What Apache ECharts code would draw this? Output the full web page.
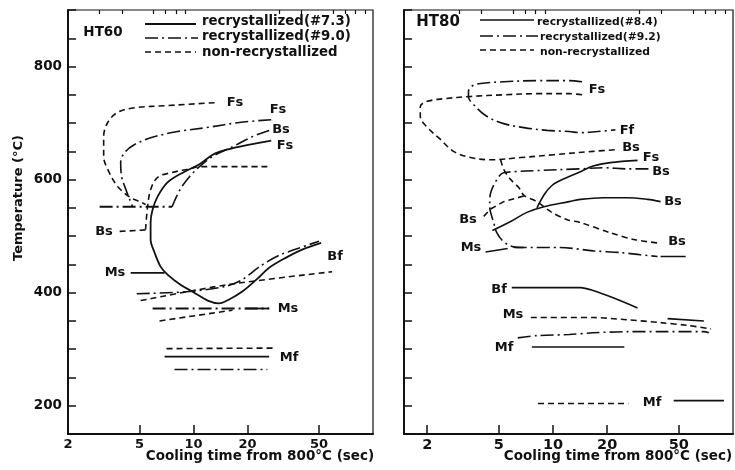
<!DOCTYPE html>
<html><head><meta charset="utf-8">
<script src="https://cdn.jsdelivr.net/npm/echarts@6/dist/echarts.min.js"></script>
<style>html,body{margin:0;padding:0;background:#fff}#c{width:735px;height:470px}</style>
</head><body><div id="c"></div>
<script>
// ---------- tick values ----------
const xTickLabels = [2, 5, 10, 20, 50];
const xMinorTicks = [3, 4, 6, 7, 8, 9, 30, 40, 60, 70, 80, 90];
const yTickLabels = [200, 400, 600, 800];

// ---------- HT60 (left) : [cooling time s, temperature C] ----------
const L_non_Fs = [[13.1,736],[7.17,731],[4.70,727],[3.78,719],[3.33,701],[3.16,676],[3.16,641],[3.33,618],[3.78,588],[4.47,568],[5.01,561],[5.41,556]];
const L_non_Bs = [[25.8,623],[10.8,623],[9.5,619],[7.45,612],[6.31,604],[5.77,582],[5.55,552],[5.41,512]];
const L_non_Bs2 = [[5.41,511],[3.7,508]];
const L_non_Bf = [[5.08,386],[15.4,414],[59.2,437]];
const L_non_Ms = [[6.47,350],[16.5,369]];
const L_non_Mf = [[7.08,301],[28.2,302]];
const L_r90_Fs = [[27.1,706],[18.0,701],[11.8,692],[8.15,685],[5.77,674],[4.70,662],[4.14,648],[3.93,630],[3.98,605],[4.14,588],[4.41,565],[4.58,552]];
const L_r90_h = [[3.0,552],[7.6,552]];
const L_r90_Bs = [[7.6,552],[8.4,582],[9.5,605],[10.8,623],[12.8,641],[16.5,658],[21.3,676],[26.4,687]];
const L_r90_Bf = [[4.83,398],[9.5,402],[15,411],[18.7,423],[23.3,446],[30,466],[38.8,479],[50,491]];
const L_r90_Ms = [[5.92,372],[26.4,372]];
const L_r90_Mf = [[7.84,264],[25.8,264]];
const L_r73_main = [[27.1,669],[20.5,662],[15.3,653],[12.8,644],[10.8,627],[8.91,614],[7.17,595],[6.31,570],[5.92,547],[5.77,524],[5.77,494],[6.07,471],[6.56,446],[7.17,432],[8.47,414],[10.1,400],[12.0,386],[13.9,381],[15.8,388],[18.7,402],[22.4,423],[26.4,444],[32.8,462],[40.3,476],[51.4,488]];
const L_r73_Ms = [[4.47,435],[6.90,435]];
const L_r73_Ms2 = [[19.5,372],[26.4,372]];
const L_r73_Mf = [[6.90,287],[26.4,287]];

// ---------- HT80 (right) ----------
const R_r92_F = [[14.5,773],[12.3,775],[8.14,775],[5.32,773],[3.96,770],[3.53,765],[3.39,756],[3.39,747],[3.71,729],[4.28,712],[5.32,699],[6.89,692],[9.26,687],[12.3,685],[14.2,683],[17.6,685],[22.2,688]];
const R_non_C = [[14.5,750],[12.3,752],[8.14,752],[5.32,750],[3.48,747],[2.46,743],[1.98,738],[1.83,729],[1.83,712],[1.98,694],[2.37,671],[2.80,650],[3.48,639],[4.50,635],[6.62,639],[10.1,644],[16.7,650],[22.8,653]];
const R_non_B = [[5.12,635],[5.32,618],[5.82,600],[6.45,586],[6.89,572],[8.14,561],[9.75,543],[12.0,529],[14.2,524],[20.8,506],[28.0,494],[38.1,488]];
const R_non_Bs = [[4.12,535],[4.50,548],[5.32,561],[6.89,571]];
const R_non_Ms = [[7.53,356],[16.7,356],[25.9,352],[39.6,347],[56.0,342],[75.4,336]];
const R_non_Mf = [[8.25,204],[26.2,204]];
const R_r92_B = [[33.9,619],[25.9,619],[19.0,621],[14.2,619],[8.14,616],[6.05,614],[5.32,612],[5.12,609],[4.87,600],[4.56,582],[4.45,565],[4.45,552],[4.50,542],[4.68,524],[4.87,506],[5.32,490],[6.05,481],[6.89,480]];
const R_r92_Ms = [[6.05,480],[10.9,480],[16.7,474],[23.7,471],[30.6,467],[38.1,464]];
const R_r92_Mf = [[6.37,320],[8.14,324],[12.3,326],[16.7,329],[25.9,331],[39.6,331],[68.9,331],[73.4,329]];
const R_r84_Fs = [[8.14,550],[9.0,575],[9.9,590],[10.9,598],[12.4,606],[14.2,614],[16.7,624],[20.8,630],[29.5,634]];
const R_r84_Bs = [[4.6,510],[5.82,526],[7.16,542],[8.91,552],[12.3,561],[14.2,565],[19.0,568],[25.9,568],[33.5,565],[39.6,561]];
const R_r84_Ms1 = [[4.22,472],[5.6,478]];
const R_r84_Ms2 = [[39.6,464],[54.6,464]];
const R_r84_Bf = [[5.9,409],[14.2,409],[16.7,404],[21.6,391],[29.5,373]];
const R_r84_Ms3 = [[43.3,354],[68.9,350]];
const R_r84_Mf = [[7.63,304],[24.9,304]];
const R_r84_Mf2 = [[46.8,209],[89.1,209]];

// ---------- styles ----------
const INK = '#111';
const SOLID = 'solid', DASH = [6,4], DDOT = [13,4,2,4];
const FONT = '"DejaVu Sans", "Liberation Sans", sans-serif';
const lg = Math.log10;

function line(data, type, grid, smooth, width) {
  return {
    type: 'line', xAxisIndex: grid * 2, yAxisIndex: grid,
    data: data.map(p => [lg(p[0]), p[1]]),
    symbol: 'none', showSymbol: false, silent: true, animation: false,
    smooth: smooth || false,
    lineStyle: { color: INK, width: width || 1.6, type: type }
  };
}

const series = [
  line(L_non_Fs, DASH, 0, 0.35),
  line(L_non_Bs, DASH, 0, 0.35),
  line(L_non_Bs2, DASH, 0),
  line(L_non_Bf, DASH, 0, 0.3),
  line(L_non_Ms, DASH, 0),
  line(L_non_Mf, DASH, 0),
  line(L_r90_Fs, DDOT, 0, 0.35),
  line(L_r90_h, DDOT, 0, false, 1.8),
  line(L_r90_Bs, DDOT, 0, 0.35),
  line(L_r90_Bf, DDOT, 0, 0.3),
  line(L_r90_Ms, DDOT, 0, false, 1.8),
  line(L_r90_Mf, DDOT, 0),
  line(L_r73_main, SOLID, 0, 0.35, 1.8),
  line(L_r73_Ms, SOLID, 0, false, 1.8),
  line(L_r73_Ms2, SOLID, 0, false, 1.8),
  line(L_r73_Mf, SOLID, 0, false, 1.8),

  line(R_r92_F, DDOT, 1, 0.35),
  line(R_non_C, DASH, 1, 0.35),
  line(R_non_B, DASH, 1, 0.3),
  line(R_non_Bs, DASH, 1),
  line(R_non_Ms, DASH, 1, 0.3),
  line(R_non_Mf, DASH, 1),
  line(R_r92_B, DDOT, 1, 0.35),
  line(R_r92_Ms, DDOT, 1, 0.3),
  line(R_r92_Mf, DDOT, 1, 0.3),
  line(R_r84_Fs, SOLID, 1, 0.35),
  line(R_r84_Bs, SOLID, 1, 0.35),
  line(R_r84_Ms1, SOLID, 1),
  line(R_r84_Ms2, SOLID, 1),
  line(R_r84_Bf, SOLID, 1, 0.3),
  line(R_r84_Ms3, SOLID, 1),
  line(R_r84_Mf, SOLID, 1),
  line(R_r84_Mf2, SOLID, 1)
];

function xAxes(grid, minT, fs) {
  const mn = lg(minT), mx = 2;
  return [{
    type: 'value', gridIndex: grid, min: mn, max: mx,
    axisLine: { show: true, onZero: false, lineStyle: { color: INK, width: 2 } },
    splitLine: { show: false },
    axisTick: { show: true, inside: true, length: 9, lineStyle: { color: INK, width: 1.5 }, customValues: xTickLabels.map(lg) },
    axisLabel: { show: true, customValues: xTickLabels.map(lg), margin: 4, color: INK,
      fontFamily: FONT, fontWeight: 'bold', fontSize: fs,
      formatter: v => String(Math.round(Math.pow(10, v))) }
  }, {
    type: 'value', gridIndex: grid, min: mn, max: mx,
    axisLine: { show: false }, splitLine: { show: false },
    axisTick: { show: true, inside: true, length: 4, lineStyle: { color: INK, width: 1.2 }, customValues: xMinorTicks.map(lg) },
    axisLabel: { show: false }
  }];
}
function yAxis(grid, showLabels) {
  return {
    type: 'value', gridIndex: grid, min: 150, max: 900, interval: 50,
    axisLine: { show: true, onZero: false, lineStyle: { color: INK, width: 2 } },
    splitLine: { show: false },
    axisTick: { show: true, inside: true, length: 8, lineStyle: { color: INK, width: 1.5 } },
    axisLabel: { show: showLabels, margin: 6, color: INK, fontFamily: FONT, fontWeight: 'bold', fontSize: 13.5,
      formatter: v => yTickLabels.indexOf(v) >= 0 ? String(v) : '' }
  };
}

function txt(s, x, y, size, align) {
  return { type: 'text', x: x, y: y, silent: true,
    style: { text: s, fill: INK, font: 'bold ' + (size || 13) + 'px ' + FONT,
      align: align || 'center', verticalAlign: 'middle' } };
}
function seg(x1, x2, y, dash, w) {
  return { type: 'line', silent: true, shape: { x1: x1, y1: y, x2: x2, y2: y },
    style: { stroke: INK, lineWidth: w || 1.6, lineDash: dash === SOLID ? null : dash } };
}

const graphics = [
  // left panel legend + labels
  txt('HT60', 103, 32, 13.5),
  seg(145, 196, 24, SOLID, 1.8), txt('recrystallized(#7.3)', 202, 22, 13.3, 'left'),
  seg(145, 198, 38, DDOT), txt('recrystallized(#9.0)', 202, 37, 13.3, 'left'),
  seg(145, 196, 52, DASH), txt('non-recrystallized', 202, 53, 13.3, 'left'),
  txt('Fs', 235, 103), txt('Fs', 278, 110), txt('Bs', 281, 130), txt('Fs', 285, 146),
  txt('Bs', 104, 232), txt('Ms', 115, 273), txt('Bf', 335, 257), txt('Ms', 288, 309), txt('Mf', 289, 358),
  // right panel legend + labels
  txt('HT80', 438, 22, 15),
  seg(480, 534, 20, SOLID), txt('recrystallized(#8.4)', 537, 22, 10.8, 'left'),
  seg(480, 538, 36, DDOT), txt('recrystallized(#9.2)', 540, 37, 10.8, 'left'),
  seg(480, 534, 50, DASH), txt('non-recrystallized', 540, 52, 10.8, 'left'),
  txt('Fs', 597, 90), txt('Ff', 627, 131), txt('Bs', 631, 148), txt('Fs', 651, 158),
  txt('Bs', 661, 172), txt('Bs', 673, 202), txt('Bs', 677, 242), txt('Bs', 468, 220),
  txt('Ms', 471, 248), txt('Bf', 499, 290), txt('Ms', 513, 315), txt('Mf', 504, 348), txt('Mf', 652, 403),
  // axis titles
  txt('Cooling time from 800°C (sec)', 260, 456, 13.5),
  txt('Cooling time from 800°C (sec)', 618, 456, 13.5),
  { type: 'text', x: 19, y: 198, rotation: Math.PI / 2, silent: true,
    style: { text: 'Temperature (°C)', fill: INK, font: 'bold 13px ' + FONT, align: 'center', verticalAlign: 'middle' } }
];

const chart = echarts.init(document.getElementById('c'), null, { renderer: 'canvas' });
chart.setOption({
  animation: false,
  backgroundColor: '#fff',
  grid: [
    { left: 68, top: 10, width: 305, height: 424, show: true, borderColor: INK, borderWidth: 1.2, containLabel: false },
    { left: 404, top: 10, width: 329, height: 424, show: true, borderColor: INK, borderWidth: 1.2, containLabel: false }
  ],
  xAxis: [].concat(xAxes(0, 2, 13), xAxes(1, 1.486, 14.5)),
  yAxis: [yAxis(0, true), yAxis(1, false)],
  series: series,
  graphic: graphics
});
</script>
</body></html>
